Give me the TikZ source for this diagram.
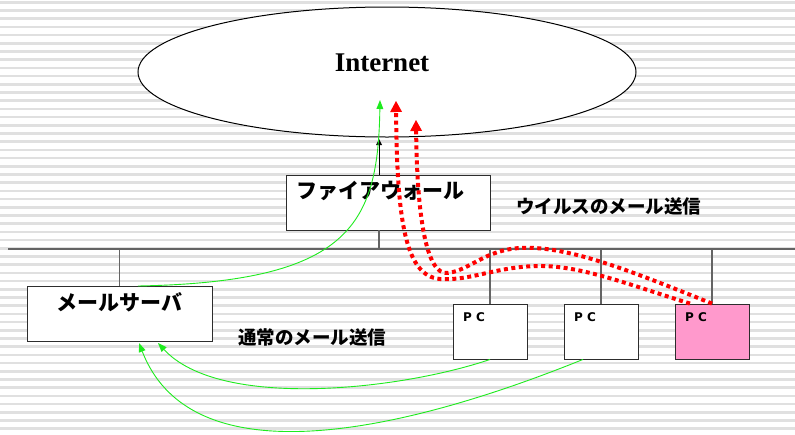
\documentclass[tikz,border=0pt]{standalone}
\usepackage{fontspec}
\newfontfamily\jp{Noto Sans CJK JP}
\newfontfamily\dvs{DejaVu Sans}
\newfontfamily\lserif{Liberation Serif}
\usetikzlibrary{arrows.meta,shapes.geometric}
\definecolor{stripe}{RGB}{224,224,224}
\definecolor{linegray}{RGB}{100,100,100}
\definecolor{boxline}{RGB}{45,45,45}
\definecolor{gline}{RGB}{30,235,30}
\definecolor{rdot}{RGB}{255,0,0}
\definecolor{pcpink}{RGB}{255,153,204}
\begin{document}
\begin{tikzpicture}[x=1pt,y=-1pt,
  box/.style={draw=boxline, fill=white, line width=0.9pt, inner sep=0pt},
  pcbox/.style={box, minimum width=74pt, minimum height=55pt},
  wire/.style={draw=linegray, line width=1.2pt},
  okmail/.style={draw=gline, line width=0.9pt, -{Triangle[width=7pt,length=9pt,line width=0pt]}},
  virus/.style={draw=rdot, line width=4pt, line cap=butt, dash pattern=on 4pt off 3.5pt, -{Triangle[width=12pt,length=11pt,line width=0pt]}},
  jbig/.style={font=\jp\bfseries\fontsize{21}{24}\selectfont, inner sep=0pt, anchor=west},
  jlabel/.style={font=\jp\bfseries\fontsize{18.5}{21}\selectfont, inner sep=0pt, anchor=west},
  pclabel/.style={font=\dvs\bfseries\fontsize{12}{14}\selectfont, inner sep=0pt, anchor=west}]
% background
\useasboundingbox (0,0) rectangle (795,434);
\fill[white] (0,0) rectangle (795,434);
\foreach \i in {0,...,52} {
  \fill[stripe] (0,{1+\i*8.2}) rectangle (795,{3.6+\i*8.2});
}
% Internet cloud
\node[ellipse, draw=black, fill=white, line width=1pt, minimum width=498pt, minimum height=130pt, inner sep=0pt] (inet) at (387,72) {};
\node[font=\lserif\bfseries\fontsize{27}{30}\selectfont, inner sep=0pt] (inettext) at (382,63) {Internet};
% bus
\coordinate (busL) at (8,249);
\coordinate (busR) at (795,249);
\draw[wire, line width=1.5pt] (busL) -- (busR);
% boxes
\node[box, minimum width=204pt, minimum height=55pt] (fw) at (388,202.5) {};
\node[box, minimum width=185pt, minimum height=55pt] (mail) at (119.5,313.5) {};
\node[pcbox] (pc1) at (490,331.5) {};
\node[pcbox] (pc2) at (601,331.5) {};
\node[pcbox, fill=pcpink] (pc3) at (712,331.5) {};
% drops from the bus
\coordinate (fwj) at (379,249);
\draw[wire] (fwj) -- (fwj |- fw.south);
\draw[draw=black, line width=1pt, -{Triangle[width=6pt,length=6pt,line width=0pt]}] (fwj |- fw.north) -- (379,139);
\draw[wire] (mail.north) -- (mail.north |- busL);
\draw[wire] (pc1.north) -- (pc1.north |- busL);
\draw[wire] (pc2.north) -- (pc2.north |- busL);
\draw[wire] (pc3.north) -- (pc3.north |- busL);
% texts
\node[jbig] (fwtext) at (296,191) {ファイアウォール};
\node[jbig] (mailtext) at (56,302) {メールサーバ};
\node[jlabel] (virustext) at (516,206) {ウイルスのメール送信};
\node[jlabel] (normaltext) at (238,337) {通常のメール送信};
\node[pclabel] (pc1t) at (463,317) {P C};
\node[pclabel] (pc2t) at (574,317) {P C};
\node[pclabel] (pc3t) at (685,317) {P C};
% normal mail (green)
\coordinate (mailtop) at (138,286);
\coordinate (gtip1) at (380,100);
\coordinate (mailbot1) at (158,343);
\coordinate (mailbot2) at (139,343);
\draw[okmail] (mailtop) .. controls (350,282) and (378,225) .. (gtip1);
\draw[okmail] (pc1.south) .. controls (400,390) and (220,410) .. (mailbot1);
\draw[okmail] ([xshift=-18pt]pc2.south) .. controls (470,405) and (200,500) .. (mailbot2);
% virus mail (red dotted)
\coordinate (vtip1) at (396,101);
\coordinate (vtip2) at (416,120);
\draw[virus] ([xshift=-22pt]pc3.north) .. controls (630,285) and (580,265) .. (537,266)
  .. controls (495,267) and (470,281) .. (440,279)
  .. controls (405,276) and (397,220) .. (vtip1);
\draw[virus] (pc3.north) .. controls (640,275) and (570,245) .. (520,248)
  .. controls (485,250) and (470,270) .. (448,273)
  .. controls (425,276) and (417,210) .. (vtip2);
\end{tikzpicture}
\end{document}
